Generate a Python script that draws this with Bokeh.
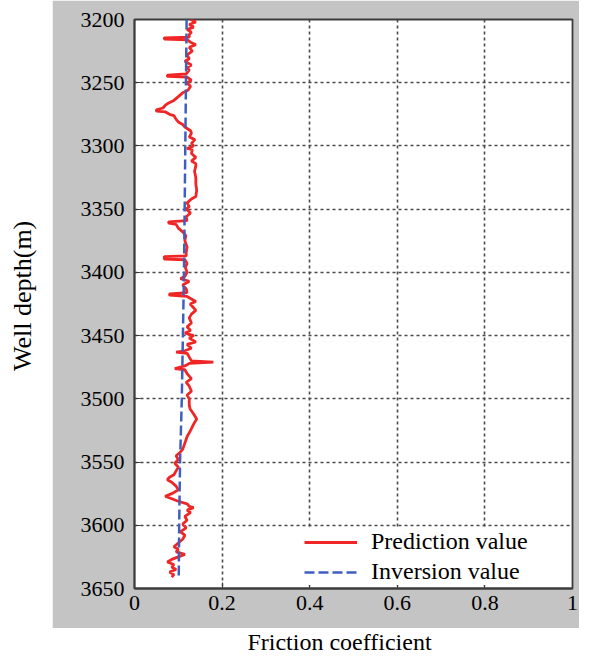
import math
from bokeh.plotting import figure
from bokeh.models import Range1d, FixedTicker, Legend, LegendItem
from bokeh.layouts import row, column
from bokeh.embed import file_html
from bokeh.resources import INLINE
from bokeh.core.properties import value

# ---------------- data ----------------
pred_depth = [
    3200, 3202, 3204, 3206, 3208, 3210, 3212, 3214, 3214.5, 3215.5, 3216, 3218, 3220, 3222, 3225,
    3228, 3231, 3233, 3236, 3238, 3240, 3243, 3244, 3245, 3245.5, 3248, 3250, 3253, 3256, 3258,
    3261, 3264, 3266, 3268, 3270, 3271.5, 3272.5, 3273, 3275, 3276, 3279, 3281, 3283, 3285, 3288,
    3290, 3293, 3295, 3298, 3300, 3302, 3303, 3306, 3309, 3312, 3314,
    3316, 3320, 3325, 3330, 3335, 3340, 3342, 3345, 3348, 3350, 3353, 3356, 3359, 3360, 3361,
    3362, 3365, 3368, 3371, 3375, 3380, 3384, 3387, 3387.5, 3389.5, 3390, 3393, 3396, 3400, 3403,
    3405, 3407, 3410, 3413, 3416, 3417, 3418, 3419, 3421, 3423, 3425, 3428,
    3430, 3433, 3436, 3440, 3443, 3446, 3448, 3450, 3452, 3455, 3457, 3460, 3462, 3463, 3464,
    3467, 3470, 3471, 3472, 3474, 3476, 3477, 3480, 3484, 3487, 3490, 3494, 3497, 3500, 3505,
    3508, 3512, 3516, 3520, 3525, 3530, 3535, 3540,
    3542, 3545, 3548, 3551, 3554, 3557, 3560, 3562, 3564, 3566, 3569, 3572, 3575, 3577, 3579,
    3581, 3583, 3585, 3586, 3588, 3590, 3593, 3596, 3599, 3602, 3605, 3608, 3611, 3614, 3617,
    3619, 3621, 3623, 3625, 3627, 3629, 3631, 3633, 3635, 3637, 3639, 3641,
]
pred_value = [
    0.128, 0.140, 0.125, 0.135, 0.120, 0.130, 0.125, 0.125, 0.068, 0.068, 0.120, 0.128, 0.140, 0.125, 0.132,
    0.120, 0.125, 0.115, 0.130, 0.120, 0.125, 0.118, 0.075, 0.075, 0.120, 0.130, 0.120, 0.128, 0.122, 0.110,
    0.100, 0.090, 0.078, 0.070, 0.065, 0.050, 0.050, 0.070, 0.080, 0.090, 0.095, 0.100, 0.110, 0.115, 0.128,
    0.130, 0.125, 0.138, 0.130, 0.135, 0.120, 0.132, 0.130, 0.140, 0.130, 0.140,
    0.140, 0.137, 0.140, 0.140, 0.142, 0.140, 0.130, 0.120, 0.125, 0.118, 0.128, 0.118, 0.120, 0.078, 0.078,
    0.095, 0.100, 0.110, 0.117, 0.115, 0.120, 0.118, 0.118, 0.068, 0.068, 0.115, 0.120, 0.116, 0.120, 0.115,
    0.105, 0.125, 0.110, 0.118, 0.120, 0.080, 0.080, 0.120, 0.130, 0.140, 0.127, 0.135,
    0.140, 0.130, 0.125, 0.130, 0.120, 0.128, 0.115, 0.135, 0.125, 0.140, 0.120, 0.130, 0.115, 0.095, 0.120,
    0.125, 0.130, 0.180, 0.125, 0.115, 0.092, 0.115, 0.120, 0.130, 0.118, 0.125, 0.130, 0.120, 0.125, 0.125,
    0.127, 0.135, 0.142, 0.135, 0.128, 0.120, 0.115, 0.110,
    0.105, 0.095, 0.100, 0.092, 0.100, 0.095, 0.090, 0.080, 0.075, 0.085, 0.095, 0.100, 0.085, 0.070, 0.085,
    0.100, 0.120, 0.125, 0.135, 0.120, 0.128, 0.115, 0.120, 0.110, 0.118, 0.105, 0.115, 0.110, 0.100, 0.090,
    0.100, 0.095, 0.115, 0.100, 0.085, 0.075, 0.090, 0.085, 0.095, 0.080, 0.090, 0.085,
]
inv_depth = [3200, 3300, 3400, 3500, 3550, 3600, 3642]
inv_value = [0.119, 0.116, 0.113, 0.108, 0.104, 0.102, 0.101]

x_ticks = [0, 0.2, 0.4, 0.6, 0.8, 1.0]
x_tick_labels = ["0", "0.2", "0.4", "0.6", "0.8", "1"]
y_ticks = [3200, 3250, 3300, 3350, 3400, 3450, 3500, 3550, 3600, 3650]
x_grid = [0.2, 0.4, 0.6, 0.8]
y_grid = [3250, 3300, 3350, 3400, 3450, 3500, 3550, 3600]

series_names = ["Prediction value", "Inversion value"]
x_label = "Friction coefficient"
y_label = "Well depth(m)"

# ---------------- style ----------------
GRAY = "#c4c4c4"
FONT = "Liberation Serif"
FRAME = "#3c3c3c"
RED = "#f02626"
BLUE = "#3f5fbf"

PH = 628  # height of gray panel / main figure

p = figure(width=527, height=PH, x_range=Range1d(0, 1), y_range=Range1d(3650, 3200),
           output_backend="svg", toolbar_location=None,
           min_border_left=82, min_border_right=7, min_border_top=19, min_border_bottom=40)
p.border_fill_color = GRAY
p.background_fill_color = "white"
p.outline_line_color = FRAME
p.outline_line_width = 1.8

p.xaxis.ticker = FixedTicker(ticks=x_ticks)
p.xaxis.major_label_overrides = dict(zip(x_ticks, x_tick_labels))
p.yaxis.ticker = FixedTicker(ticks=y_ticks)
p.axis.axis_line_color = FRAME
p.axis.axis_line_width = 1.8
p.axis.major_tick_line_color = FRAME
p.axis.major_tick_in = 6
p.axis.major_tick_out = 0
p.axis.minor_tick_line_color = None
p.axis.major_label_text_font = FONT
p.axis.major_label_text_font_size = "22px"
p.axis.major_label_text_color = "black"
p.xaxis.major_label_standoff = 7
p.yaxis.major_label_standoff = 10

p.xgrid.ticker = FixedTicker(ticks=x_grid)
p.ygrid.ticker = FixedTicker(ticks=y_grid)
p.grid.grid_line_color = "#4a4a4a"
p.grid.grid_line_dash = "3 3"
p.grid.grid_line_width = 1.6

r1 = p.line(pred_value, pred_depth, color=RED, line_width=2.8)
r2 = p.line(inv_value, inv_depth, color=BLUE, line_width=2.5, line_dash="10 4")

legend = Legend(items=[LegendItem(label=series_names[0], renderers=[r1]),
                       LegendItem(label=series_names[1], renderers=[r2])],
                location=(170, 3))
legend.label_text_font = FONT
legend.label_text_font_size = "24px"
legend.label_text_color = "black"
legend.glyph_width = 53
legend.glyph_height = 24
legend.label_height = 24
legend.label_standoff = 14
legend.spacing = 3
legend.padding = 10
legend.margin = 0
legend.border_line_color = None
legend.background_fill_color = "white"
legend.background_fill_alpha = 1.0
p.add_layout(legend)

# y label panel (white strip left of the gray panel)
yl = figure(width=52, height=PH, x_range=Range1d(0, 52), y_range=Range1d(0, PH),
            output_backend="svg", toolbar_location=None, min_border=0,
            x_axis_type=None, y_axis_type=None)
yl.outline_line_color = None
yl.border_fill_color = "white"
yl.background_fill_color = "white"
yl.text(x=[22], y=[PH - 305], text=[y_label], angle=math.pi / 2, text_align="center",
        text_baseline="middle", text_font=value(FONT), text_font_size="26px", text_color="black")

# x label panel (white strip under the gray panel)
XH = 655 - PH
xl = figure(width=579, height=XH, x_range=Range1d(0, 579), y_range=Range1d(0, XH),
            output_backend="svg", toolbar_location=None, min_border=0,
            x_axis_type=None, y_axis_type=None)
xl.outline_line_color = None
xl.border_fill_color = "white"
xl.background_fill_color = "white"
xl.text(x=[339], y=[1], text=[x_label], text_align="center", text_baseline="bottom",
        text_font=value(FONT), text_font_size="24px", text_color="black")

layout = column(row(yl, p, spacing=0), xl, spacing=0)

open("out.html", "w").write(file_html(layout, INLINE))
